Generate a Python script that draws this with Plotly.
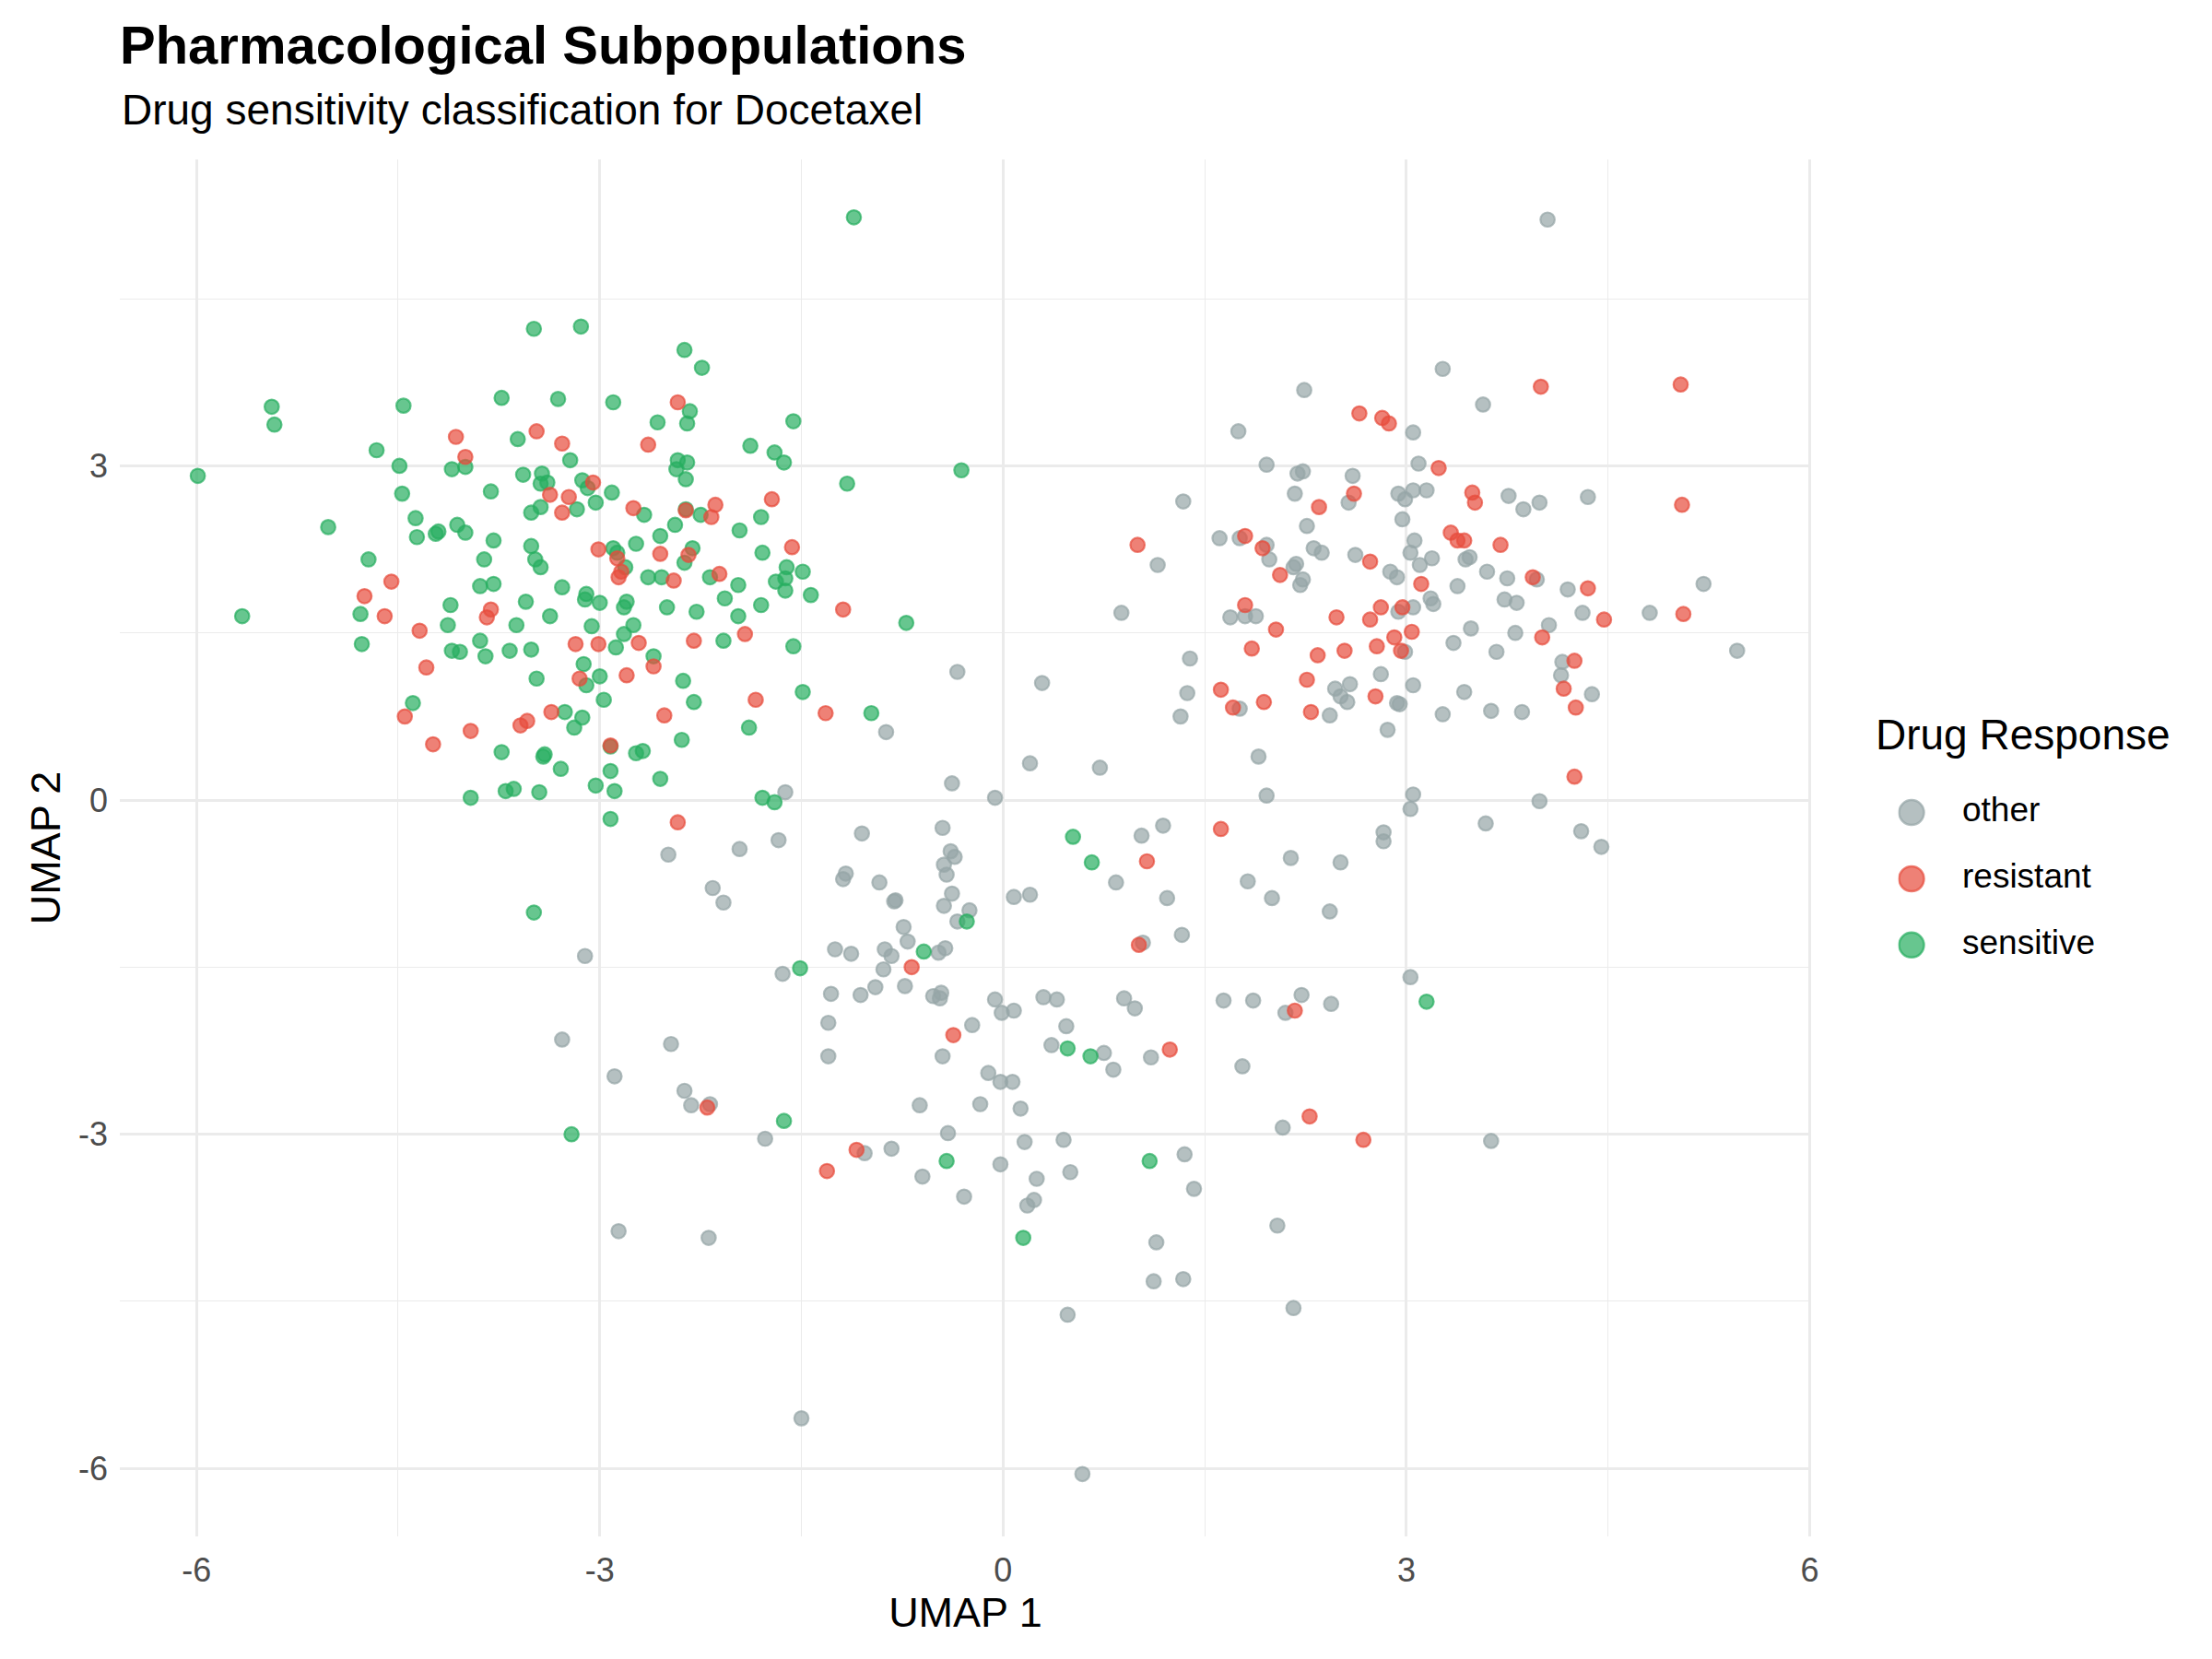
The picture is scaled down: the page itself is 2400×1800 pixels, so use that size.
import plotly.graph_objects as go

# ---------------- data (UMAP coordinates) ----------------
sensitive_x = [-3.49, -5.44, -5.42, -4.46, -3.73, -3.61, -4.00, -4.10, -4.66, -4.49, -5.99, -4.47, -3.81, -3.57,
               -3.43, -3.44, -3.39, -3.44, -3.51, -4.37,
               -1.11, -3.14, -2.37, -2.24, -3.31, -2.90, -2.33, -2.35, -2.57, -3.22, -1.88, -1.70, -1.63, -1.56,
               -2.42, -2.35, -2.43, -2.36, -1.16, -3.13, -3.09, -2.91, -3.03, -3.17, -2.67, -2.36, -2.25, -1.80,
               -5.02, -4.36, -4.22, -4.20, -4.06, -4.00, -3.79, -3.51, -3.48, -3.44, -4.72, -4.78, -4.77, -5.66,
               -3.86, -3.89, -3.79, -4.11, -3.55, -3.37, -4.13, -3.62, -3.89, -4.10, -4.04, -3.85, -3.67, -3.51,
               -3.47, -4.39, -3.73, -3.42, -3.41, -3.96, -3.70, -3.64, -3.45,
               -2.44, -1.96, -2.55, -2.73, -2.90, -2.87, -2.81, -2.31, -2.37, -2.64, -2.54, -2.18, -1.79, -1.61,
               -1.62, -1.62, -1.69, -1.49, -1.43, -1.97, -2.07, -1.80, -1.97, -0.72, -3.28, -3.10, -3.11, -3.00,
               -2.80, -2.82, -2.50, -2.28, -3.06, -2.75, -2.82, -2.88, -2.08, -1.56, -2.60, -3.12, -3.00, -3.10,
               -2.38, -2.97, -2.30, -1.49, -0.98, -3.26, -3.13, -3.19, -1.89, -2.92, -2.73, -2.68, -2.39, -3.29,
               -2.92, -3.03, -2.89, -2.55, -1.79, -1.70, -2.92,
               -0.31, -3.49, -0.27, -0.59, -1.51, -1.63, -3.21, 0.52, 0.66, 3.15, 0.48, 0.65, -0.42, 0.15, 1.09]
sensitive_y = [4.23, 3.53, 3.37, 3.54, 3.61, 3.24, 2.99, 2.97, 3.14, 3.00, 2.91, 2.75, 2.77, 2.92,
               2.93, 2.84, 2.85, 2.63, 2.58, 2.53,
               5.23, 4.25, 4.04, 3.88, 3.60, 3.57, 3.49, 3.38, 3.39, 3.05, 3.18, 3.12, 3.03, 3.40,
               3.05, 3.03, 2.97, 2.88, 2.84, 2.87, 2.80, 2.76, 2.67, 2.61, 2.56, 2.61, 2.56, 2.54,
               2.45, 2.36, 2.39, 2.41, 2.47, 2.40, 2.33, 2.28, 2.16, 2.09, 2.16, 1.67, 1.40, 1.65,
               2.16, 1.92, 1.94, 1.75, 1.78, 1.65, 1.57, 1.57, 1.43, 1.34, 1.33, 1.29, 1.34, 1.35,
               1.09, 0.87, 0.43, 0.39, 0.41, 0.02, 0.08, 0.10, 0.07,
               2.47, 2.42, 2.37, 2.30, 2.26, 2.22, 2.09, 2.26, 2.13, 2.00, 2.00, 2.00, 2.22, 2.09,
               1.99, 1.88, 1.96, 2.05, 1.84, 1.93, 1.81, 1.75, 1.65, 1.59, 1.91, 1.85, 1.80, 1.77,
               1.78, 1.73, 1.73, 1.69, 1.56, 1.57, 1.49, 1.37, 1.43, 1.38, 1.29, 1.22, 1.11, 1.03,
               1.07, 0.90, 0.88, 0.97, 0.78, 0.79, 0.74, 0.65, 0.65, 0.48, 0.42, 0.44, 0.54, 0.28,
               0.26, 0.13, 0.08, 0.19, 0.02, -0.02, -0.17,
               2.96, -1.01, -1.09, -1.36, -1.51, -2.88, -3.00, -0.33, -0.56, -1.81, -2.23, -2.30, -3.24, -3.93, -3.24]

resistant_x = [-3.47, -4.07, -4.00, -3.37, -2.42, -2.64, -3.28, -3.05, -3.23, -3.28, -2.75, -2.36, -2.17, -2.14,
               -1.72, -4.55, -4.75, -4.60, -3.81, -3.84, -4.34, -4.29, -4.45, -3.96, -3.59, -3.54, -3.36, -4.24,
               -1.57, -3.01, -2.87, -2.84, -2.86, -2.55, -2.34, -2.45, -2.11, -1.19, -3.18, -3.01, -2.71, -2.30,
               -1.92, -2.60, -3.15, -2.80, -1.84, -1.32, -2.52, -2.92, -2.42,
               -0.68, -0.37, -2.20, 1.07, 1.62, 1.01, 1.24, 2.17, 2.28, 2.68, -1.09, -1.31,
               2.65, 2.82, 2.87, 2.61, 2.35, 4.00, 5.04, 3.24, 3.49, 3.51, 5.05,
               1.00, 1.80, 1.93, 2.06, 2.73, 3.11, 1.80, 2.03, 2.48, 2.73, 2.81, 2.97, 3.04, 2.91, 2.78, 2.96,
               1.85, 2.34, 2.54, 2.26, 2.77, 1.62, 1.71, 1.94, 2.29,
               3.33, 3.38, 3.43, 3.70, 3.94, 4.35, 4.47, 5.06, 4.01, 4.25, 4.17, 4.26, 4.25]
resistant_y = [3.31, 3.26, 3.08, 2.74, 3.57, 3.19, 3.20, 2.85, 2.72, 2.58, 2.62, 2.60, 2.54, 2.65,
               2.70, 1.96, 1.83, 1.65, 1.71, 1.64, 1.52, 1.19, 0.75, 0.62, 0.67, 0.71, 0.79, 0.50,
               2.27, 2.25, 2.17, 2.05, 2.00, 2.21, 2.20, 1.97, 2.03, 1.71, 1.40, 1.40, 1.41, 1.43,
               1.49, 1.20, 1.09, 1.12, 0.90, 0.78, 0.76, 0.49, -0.20,
               -1.50, -2.11, -2.76, -0.55, -0.26, -1.30, -2.24, -1.89, -2.84, -3.05, -3.14, -3.33,
               3.47, 3.43, 3.38, 2.75, 2.63, 3.71, 3.73, 2.98, 2.76, 2.67, 2.65,
               2.29, 2.37, 2.26, 2.02, 2.14, 1.94, 1.75, 1.53, 1.64, 1.62, 1.73, 1.73, 1.51, 1.46, 1.38, 1.34,
               1.36, 1.30, 1.34, 1.08, 0.93, 0.99, 0.83, 0.88, 0.79,
               2.40, 2.33, 2.33, 2.29, 2.00, 1.90, 1.62, 1.67, 1.46, 1.25, 1.00, 0.83, 0.21]

other_x = [-0.87, -1.62, -0.34, 0.29, 0.20, 0.72, -0.38, -0.06, -2.49, -1.96, -1.67, -1.05, -0.45, -0.39,
           -0.36, -0.44, -0.42, -2.16, -2.08, -1.17, -1.19, -0.92, -0.80, -0.81, -0.38, -0.44, -0.25, -0.34,
           0.08, 0.20, -0.74, -0.71, -0.88, -0.83, -0.48, -0.43, -1.25, -1.13, -0.89, -3.11, -1.64, -1.28,
           -1.06, -0.95, -0.73, -0.52, -0.46, -0.47, -0.06, -0.01, 0.08, 0.30, 0.40, -1.30, -0.23, -1.30,
           -0.45, -3.28, -2.47, -2.89, -0.11, -0.02, 0.07, -2.37, -2.32, -2.18, -0.62, -0.17, 0.13, -1.77,
           -0.41, 0.16,
           1.96, 3.05, 3.03, 3.99, 3.59, 1.03, 1.19, 0.84, 1.22, 2.14, 2.51, 2.83, 2.83, 1.82, 2.00, 2.43,
           1.33, 1.04, 3.03, 0.90, 0.98, 0.47, 0.36, 0.75, 0.82, 1.10, 1.64, 1.86, 2.22, 2.10, 2.44, 1.78,
           2.08, 3.63, 0.45,
           -1.03, -0.83, -0.60, -0.29, -0.02, 0.25, 0.23, 0.18, -2.86, -2.19, -1.50,
           1.35, 0.50, 1.42, 1.14, 1.12, 1.34, 2.04, 2.16, 0.48, 0.59,
           2.24, 3.05, 1.75, 3.09, 1.96, 2.19, 2.23, 2.60, 1.34, 2.17, 2.57, 2.94, 2.99, 3.05, 3.15, 2.97, 2.26,
           4.05, 3.27, 3.57, 3.76, 3.87, 3.99, 4.35,
           1.15, 0.88, 1.61, 1.76, 1.96, 1.98, 2.31, 2.37, 2.16, 2.18, 2.23, 2.21, 2.62, 2.88, 2.93, 3.06,
           3.03, 3.10, 1.80, 1.69, 1.88, 2.94, 3.05, 2.99, 1.39, 2.81, 3.05, 2.47, 2.58, 2.51, 2.56, 2.93,
           2.95, 2.86, 1.37, 1.32, 1.76, 2.43, 1.90,
           3.19, 3.44, 3.47, 3.60, 3.75, 3.97, 3.38, 4.20, 5.21, 3.18, 3.20, 3.73, 3.82, 4.31, 4.81, 3.48,
           3.81, 4.06, 3.35, 3.67, 5.46, 4.16, 4.15, 4.38, 3.43, 3.27, 3.63, 3.86, 4.30, 4.45]
other_y = [0.61, 0.07, 1.15, 1.05, 0.33, 0.29, 0.15, 0.02, -0.49, -0.44, -0.36, -0.30, -0.25, -0.46,
           -0.51, -0.58, -0.67, -0.79, -0.92, -0.66, -0.71, -0.74, -0.90, -0.91, -0.84, -0.95, -0.99, -1.09,
           -0.87, -0.85, -1.14, -1.27, -1.34, -1.40, -1.37, -1.33, -1.34, -1.38, -1.52, -1.40, -1.56, -1.74,
           -1.75, -1.68, -1.67, -1.76, -1.73, -1.78, -1.79, -1.91, -1.89, -1.77, -1.79, -2.00, -2.02, -2.30,
           -2.30, -2.15, -2.19, -2.48, -2.45, -2.53, -2.53, -2.61, -2.74, -2.73, -2.74, -2.73, -2.77, -3.04,
           -2.99, -3.07,
           0.04, 0.05, -0.08, -0.01, -0.21, -0.32, -0.23, -0.74, -0.88, -0.52, -0.56, -0.29, -0.37, -0.73, -0.88, -1.00,
           -1.21, -1.28, -1.59, -1.78, -1.87, -2.03, -2.20, -2.27, -2.42, -2.31, -1.80, -1.80, -1.75, -1.91, -1.83, -2.39,
           -2.94, -3.06, -3.05,
           -3.17, -3.13, -3.38, -3.56, -3.27, -3.40, -3.59, -3.64, -3.87, -3.93, -5.55,
           -3.18, -3.34, -3.49, -3.97, -4.32, -4.30, -3.82, -4.56, -4.62, -6.05,
           3.68, 3.30, 3.31, 3.02, 3.01, 2.93, 2.95, 2.91, 2.68, 2.75, 2.67, 2.75, 2.70, 2.78, 2.78, 2.52, 2.46,
           5.21, 3.87, 3.55, 2.73, 2.61, 2.67, 2.72,
           2.11, 1.68, 2.35, 2.35, 2.29, 2.16, 2.26, 2.22, 2.09, 2.12, 1.98, 1.93, 2.20, 2.05, 2.00, 2.33,
           2.22, 2.11, 1.65, 1.64, 1.65, 1.69, 1.73, 1.33, 1.27, 1.13, 1.03, 1.00, 1.04, 0.93, 0.88, 0.87,
           0.86, 0.63, 0.96, 0.75, 0.82, 0.76, 0.39,
           2.17, 2.16, 2.18, 2.05, 1.99, 1.98, 1.92, 1.89, 1.94, 1.81, 1.76, 1.80, 1.77, 1.68, 1.68, 1.54,
           1.50, 1.57, 1.41, 1.33, 1.34, 1.24, 1.12, 0.95, 0.97, 0.77, 0.80, 0.79, -0.28, -0.42]

groups = ["other", "resistant", "sensitive"]
group_colors = {"other": (149, 165, 166), "resistant": (231, 76, 60), "sensitive": (39, 174, 96)}
group_data = {"other": (other_x, other_y),
              "resistant": (resistant_x, resistant_y),
              "sensitive": (sensitive_x, sensitive_y)}
draw_order = ["other", "sensitive", "resistant"]

x_ticks = [-6, -3, 0, 3, 6]
y_ticks = [-6, -3, 0, 3]


def rgba(g, a=0.7):
    r, gg, b = group_colors[g]
    return f"rgba({r},{gg},{b},{a})"


# ---------------- figure ----------------
FONT = "Liberation Sans, Arial, Helvetica, sans-serif"
GRID = "#EBEBEB"

fig = go.Figure()
for g in draw_order:
    xs, ys = group_data[g]
    fig.add_trace(go.Scatter(
        x=xs, y=ys, mode="markers", name=g, showlegend=False,
        marker=dict(size=15.5, color=rgba(g), line=dict(color=rgba(g), width=2.2)),
        xaxis="x", yaxis="y",
    ))

# legend keys (ggplot-style guide) drawn on their own small axes
legend_rank = list(range(len(groups)))
fig.add_trace(go.Scatter(
    x=[0] * len(groups), y=legend_rank, mode="markers", showlegend=False, hoverinfo="skip",
    marker=dict(size=27, color=[rgba(g) for g in groups],
                line=dict(color=[rgba(g) for g in groups], width=2.5)),
    xaxis="x2", yaxis="y2",
))
fig.add_trace(go.Scatter(
    x=[5.5] * len(groups), y=legend_rank, mode="text", text=groups, showlegend=False,
    hoverinfo="skip", textposition="middle right",
    textfont=dict(size=37, family=FONT, color="black"),
    xaxis="x2", yaxis="y2",
))

fig.update_layout(
    width=2400, height=1800,
    paper_bgcolor="white", plot_bgcolor="white",
    margin=dict(l=130, r=0, t=173, b=133, autoexpand=False),
    font=dict(family=FONT, color="black"),
    showlegend=False,
    title=dict(
        text="<b>Pharmacological Subpopulations</b>",
        font=dict(size=58, family=FONT, color="black"),
        x=0, xref="paper", xanchor="left",
        y=0.984, yref="container", yanchor="top",
    ),
    annotations=[
        dict(text="Drug sensitivity classification for Docetaxel", showarrow=False,
             xref="paper", x=0, xanchor="left", yref="paper", y=1.0361, yanchor="middle",
             font=dict(size=46, family=FONT, color="black")),
        dict(text="Drug Response", showarrow=False,
             xref="paper", x=0.8383, xanchor="left", yref="paper", y=0.5823, yanchor="middle",
             font=dict(size=46, family=FONT, color="black")),
    ],
    xaxis=dict(
        domain=[0, 0.80837],
        range=[-6.57, 6.01], tickvals=x_ticks, ticktext=[str(v) for v in x_ticks],
        showgrid=True, gridcolor=GRID, gridwidth=2.7, zeroline=False, showline=False, ticks="",
        tickfont=dict(size=36, color="#4D4D4D", family=FONT), ticklabelstandoff=12,
        title=dict(text="UMAP 1", font=dict(size=45, family=FONT, color="black"), standoff=10),
        minor=dict(tick0=1.5, dtick=3, showgrid=True, gridcolor=GRID, gridwidth=1.4),
    ),
    yaxis=dict(
        domain=[0, 1],
        range=[-6.61, 5.75], tickvals=y_ticks, ticktext=[str(v) for v in y_ticks],
        showgrid=True, gridcolor=GRID, gridwidth=2.7, zeroline=False, showline=False, ticks="",
        tickfont=dict(size=36, color="#4D4D4D", family=FONT), ticklabelstandoff=12,
        title=dict(text="UMAP 2", font=dict(size=45, family=FONT, color="black"), standoff=5),
        minor=dict(tick0=1.5, dtick=3, showgrid=True, gridcolor=GRID, gridwidth=1.4),
    ),
    xaxis2=dict(domain=[0.85, 1.0], range=[-1.45, 32.6], visible=False, fixedrange=True,
                anchor="y2"),
    yaxis2=dict(domain=[0, 1], range=[10.924, -9.855], visible=False, fixedrange=True,
                anchor="x2"),
)

fig.write_html("out.html")
